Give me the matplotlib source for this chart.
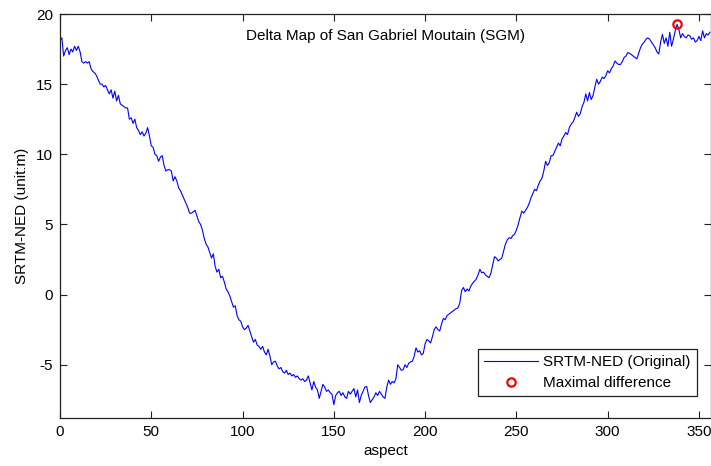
import numpy as np
import matplotlib.pyplot as plt

# SRTM minus NED elevation difference, averaged per aspect degree (0..356)
aspect = np.arange(0, 357)
delta = [
    18.1, 18.3, 17.0, 17.4, 17.6, 17.1, 17.5, 17.3, 17.7, 17.4,
    17.7, 17.3, 16.6, 16.5, 16.6, 16.5, 16.6, 16.1, 15.9, 15.8,
    15.6, 15.3, 15.0, 15.0, 14.8, 14.9, 14.6, 14.3, 14.6, 14.0,
    14.5, 13.8, 14.2, 13.6, 13.5, 13.4, 13.3, 13.3, 12.5, 12.6,
    12.2, 12.5, 11.9, 11.7, 11.4, 11.6, 11.3, 11.5, 11.9, 11.3,
    10.6, 10.5, 10.0, 9.9, 9.5, 9.8, 9.9, 9.2, 8.8, 8.9,
    8.9, 8.8, 8.1, 8.4, 8.1, 7.6, 7.4, 7.1, 6.8, 6.5,
    6.2, 5.8, 5.8, 5.9, 6.0, 5.6, 5.2, 5.0, 4.6, 4.0,
    3.6, 3.4, 3.0, 2.6, 2.9, 2.0, 1.6, 1.8, 1.2, 1.3,
    0.9, 0.4, 0.2, -0.1, -0.5, -0.9, -0.8, -1.5, -1.8, -1.9,
    -2.3, -2.5, -2.4, -2.2, -2.6, -3.0, -3.4, -3.2, -3.6, -3.7,
    -3.9, -3.7, -4.1, -4.3, -3.9, -4.4, -5.0, -4.8, -4.75, -5.1,
    -5.3, -5.2, -5.5, -5.6, -5.4, -5.7, -5.6, -5.8, -5.7, -5.9,
    -5.8, -6.0, -6.1, -6.0, -6.2, -6.1, -5.8, -6.3, -6.8, -6.2,
    -6.6, -6.8, -7.4, -6.9, -6.4, -6.6, -6.9, -6.8, -7.0, -7.1,
    -7.85, -7.2, -7.0, -6.9, -7.2, -7.0, -7.3, -7.4, -6.9, -7.1,
    -6.9, -6.7, -7.3, -6.8, -7.7, -7.2, -6.9, -6.6, -6.55, -7.2,
    -7.7, -7.5, -7.3, -7.0, -7.2, -6.9, -7.1, -7.3, -7.4, -6.6,
    -6.1, -6.4, -6.2, -6.3, -6.0, -5.0, -5.2, -5.4, -5.35, -5.0,
    -5.2, -4.9, -4.8, -4.75, -4.4, -3.8, -4.1, -4.0, -4.3, -4.2,
    -3.5, -3.2, -3.3, -3.45, -3.0, -2.5, -2.3, -2.5, -2.6, -2.1,
    -1.7, -1.8, -1.5, -1.4, -1.3, -1.2, -1.1, -1.0, -0.95, -0.6,
    0.3, 0.5, 0.2, 0.4, 0.25, 0.6, 0.8, 0.95, 1.1, 1.4,
    1.8, 1.55, 1.6, 1.4, 1.3, 1.2, 1.5, 2.1, 2.7, 2.6,
    2.4, 2.5, 2.6, 3.1, 3.6, 3.9, 4.05, 4.0, 4.2, 4.3,
    4.6, 5.0, 5.5, 5.95, 5.8, 6.0, 6.2, 6.5, 6.9, 7.2,
    7.5, 7.4, 7.8, 8.1, 8.3, 8.8, 9.5, 9.2, 9.4, 9.9,
    9.9, 10.2, 10.5, 10.8, 10.6, 11.1, 11.3, 11.55, 11.4, 11.9,
    12.15, 12.3, 12.6, 13.0, 12.7, 12.9, 13.4, 13.7, 14.3, 13.8,
    14.4, 13.9, 14.2, 14.8, 15.35, 15.0, 15.2, 15.5, 15.4, 15.6,
    15.95, 15.8, 16.1, 16.3, 16.65, 16.5, 16.4, 16.4, 16.6, 16.9,
    17.0, 17.25, 17.2, 17.1, 17.0, 16.9, 16.8, 17.2, 17.6, 17.85,
    18.0, 18.2, 18.3, 18.2, 18.0, 17.8, 17.6, 17.3, 17.15, 18.0,
    18.55, 17.9, 18.3, 17.7, 18.7, 17.7, 18.2, 18.8, 19.26, 18.9,
    18.3, 18.6, 18.4, 18.3, 18.5, 18.45, 18.2, 18.3, 18.0, 18.1,
    18.4, 18.1, 18.8, 18.3, 18.6, 18.5, 18.7,
]
delta = np.array(delta)
imax = int(np.argmax(delta))

plt.rcParams['font.family'] = ['Liberation Sans', 'DejaVu Sans']
plt.rcParams['font.size'] = 11
plt.rcParams['axes.unicode_minus'] = False

fig = plt.figure(figsize=(7.11, 4.66), dpi=100)
ax = fig.add_axes([60 / 711, 48 / 466, 651 / 711, 404 / 466])

ax.plot(aspect, delta, color='#0000ff', lw=0.8, label='SRTM-NED (Original)')
ax.plot(aspect[imax], delta[imax], 'o', ms=6, mfc='none', mec='#ff0000',
        mew=1.6, label='Maximal difference')

ax.set_xlim(0, 356.6)
ax.set_ylim(-8.8, 20)
ax.set_xticks(np.arange(0, 351, 50))
ax.set_yticks(np.arange(-5, 21, 5))
ax.tick_params(direction='in', length=5, width=0.8, top=True, right=True,
               colors='#222222', labelcolor='black', labelsize=11, pad=5)
for s in ax.spines.values():
    s.set_linewidth(0.9)
    s.set_color('#222222')

ax.set_xlabel('aspect', fontsize=11, labelpad=4)
ax.set_ylabel('SRTM-NED (unit:m)', fontsize=11, labelpad=5)
ax.text(0.5, 0.9455, 'Delta Map of San Gabriel Moutain (SGM)', transform=ax.transAxes,
        ha='center', va='center', fontsize=11)

leg = ax.legend(loc='lower right', bbox_to_anchor=(0.978, 0.054), borderaxespad=0,
                fancybox=False, edgecolor='#222222', framealpha=1, numpoints=1,
                handlelength=3.5, handletextpad=0.35, labelspacing=0.45,
                borderpad=0.4, fontsize=11)
leg.get_frame().set_linewidth(0.9)

fig.savefig('out.png', dpi=100)
